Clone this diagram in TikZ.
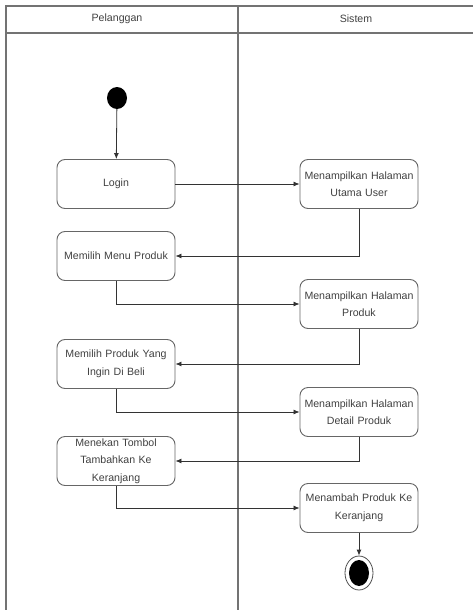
\documentclass[tikz,border=0pt]{standalone}
\usepackage{fontspec}
\setmainfont{Liberation Sans}
\usetikzlibrary{arrows.meta,shapes.geometric}

\tikzset{
  lane/.style={draw=black!55, line width=1.1pt},
  action/.style={draw=black!60, line width=0.9pt, rounded corners=8pt,
    minimum width=118pt, minimum height=49pt, text width=114pt, align=center,
    inner sep=1pt, text=black!75, font=\fontsize{10.6}{17.5}\selectfont},
  title/.style={text=black!75, font=\fontsize{10.6}{13}\selectfont},
  flow/.style={draw=black!80, line width=0.8pt, -{Latex[length=6pt,width=5pt]}},
  startdot/.style={ellipse, fill=black, minimum width=20pt, minimum height=22pt, inner sep=0pt},
  endring/.style={ellipse, draw=black!70, line width=0.8pt, minimum width=28pt, minimum height=34pt, inner sep=0pt},
  endcore/.style={ellipse, fill=black, minimum width=20pt, minimum height=26pt, inner sep=0pt},
}

\begin{document}
\begin{tikzpicture}[x=1pt, y=-1pt]
  \useasboundingbox (0,0) rectangle (473,610);

  % swimlane frame
  \draw[lane] (473,6) -- (6,6) -- (6,610);
  \draw[lane] (6,33) -- (473,33);
  \draw[lane] (238,6) -- (238,610);
  \node[title] (laneA) at (117,19) {Pelanggan};
  \node[title] (laneB) at (356,19) {Sistem};

  % activities
  \node[startdot] (start) at (117,98) {};
  \node[action] (login)  at (116,184) {Login};
  \node[action] (utama)  at (359,184) {Menampilkan Halaman\\Utama User};
  \node[action] (menu)   at (116,256) {Memilih Menu Produk};
  \node[action] (produk) at (359,304) {Menampilkan Halaman\\Produk};
  \node[action] (beli)   at (116,364) {Memilih Produk Yang\\Ingin Di Beli};
  \node[action] (detail) at (359,412) {Menampilkan Halaman\\Detail Produk};
  \node[action] (tombol) at (116,461) {Menekan Tombol\\Tambahkan Ke\\Keranjang};
  \node[action] (tambah) at (359,508) {Menambah Produk Ke\\Keranjang};
  \node[endring] (finish) at (359,573) {};
  \node[endcore] (finishcore) at (finish.center) {};

  % control flow
  \draw[flow] (start) -- (login);
  \draw[flow] (login) -- (utama);
  \draw[flow] (utama.south) |- (menu.east);
  \draw[flow] (menu.south) |- (produk.west);
  \draw[flow] (produk.south) |- (beli.east);
  \draw[flow] (beli.south) |- (detail.west);
  \draw[flow] (detail.south) |- (tombol.east);
  \draw[flow] (tombol.south) |- (tambah.west);
  \draw[flow] (tambah) -- (finish);
\end{tikzpicture}
\end{document}
